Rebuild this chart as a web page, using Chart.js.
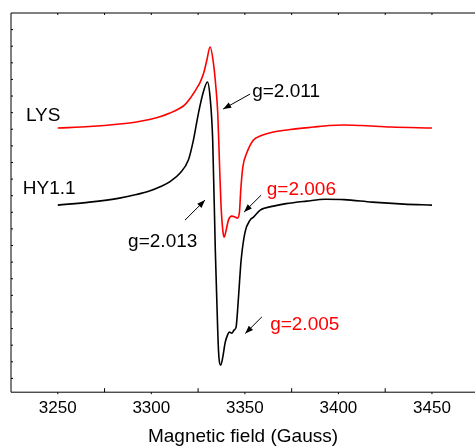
<!DOCTYPE html>
<html>
<head>
<meta charset="utf-8">
<script src="https://cdn.jsdelivr.net/npm/chart.js@4.4.1/dist/chart.umd.min.js"></script>
<style>
  html, body { margin: 0; padding: 0; background: #fff; }
</style>
</head>
<body>
<canvas id="epr" width="475" height="448"></canvas>
<script>
const FONT = "'Liberation Sans', Arial, sans-serif";

// LYS spectrum (red): field in Gauss, signal in arbitrary units
const lysField = [3250, 3267, 3283, 3292, 3299, 3305, 3310, 3315, 3318, 3320.7, 3322.5, 3324, 3326, 3328,
  3329.7, 3331.4, 3333.2, 3334.5, 3335.5, 3336.2, 3336.6, 3337.3, 3338.2, 3338.9, 3340, 3341.2, 3343,
  3344.8, 3346, 3347.1, 3347.8, 3348.9, 3351, 3354.6, 3358.2, 3365.3, 3374.2, 3386.7, 3395, 3403,
  3412, 3428, 3450];
const lysSignal = [264, 265.5, 268, 270, 272.5, 275.5, 279, 283.5, 287.5, 293.5, 298.5, 303, 309.5, 319,
  332, 345, 329, 305, 279, 242, 219, 185, 162, 155, 162, 172, 176,
  175, 174, 180, 202, 225, 239, 252, 256, 260, 262.5, 265, 266.5, 267,
  266.5, 265, 264];

// HY1.1 spectrum (black)
const hyField = [3250, 3267, 3283, 3292, 3299, 3305, 3310, 3315.4, 3319.8, 3322.5, 3325.2, 3327.8, 3330,
  3331.4, 3332.8, 3334.2, 3335, 3335.9, 3337.1, 3338.2, 3339.4, 3340.7, 3341.7, 3343, 3344.2, 3345.3,
  3346, 3347.1, 3348, 3350.1, 3352.8, 3354.6, 3358.2, 3365.3, 3372, 3383, 3393, 3403, 3418, 3435, 3450];
const hySignal = [187, 190, 194, 197.5, 201, 205.5, 210.5, 219, 232, 252, 279, 300, 310,
  295, 252, 142, 92, 42, 27, 35, 49, 57, 60, 59, 62, 65,
  79, 109, 132, 160, 172, 175, 182, 186, 188.5, 191, 192.8, 192.5, 190, 188, 187];

const xTicks = [3250, 3300, 3350, 3400, 3450];
const xMinorTicks = [3275, 3325, 3375, 3425];

// text labels, anchored at the left end of the baseline (data units)
const notes = [
  { text: 'LYS', x: 3233, y: 271, color: '#000' },
  { text: 'HY1.1', x: 3231.3, y: 198, color: '#000' },
  { text: 'g=2.011', x: 3353.9, y: 295, color: '#000' },
  { text: 'g=2.013', x: 3287.6, y: 145, color: '#000' },
  { text: 'g=2.006', x: 3361.7, y: 197, color: '#ff0000' },
  { text: 'g=2.005', x: 3363.5, y: 62, color: '#ff0000' }
];
// arrows: from (x1, y1) to the head at (x2, y2)
const arrows = [
  [3352.8, 298, 3338.4, 283],
  [3318.0, 172, 3328.7, 192],
  [3358.7, 197, 3349.6, 180],
  [3359.1, 75.3, 3350.2, 58.7]
];

const toPoints = (xs, ys) => xs.map((x, i) => ({ x: x, y: ys[i] }));

function drawArrow(ctx, x1, y1, x2, y2) {
  const a = Math.atan2(y2 - y1, x2 - x1);
  ctx.beginPath();
  ctx.moveTo(x1, y1);
  ctx.lineTo(x2, y2);
  ctx.stroke();
  ctx.beginPath();
  ctx.moveTo(x2, y2);
  ctx.lineTo(x2 - 8 * Math.cos(a) + 3 * Math.sin(a), y2 - 8 * Math.sin(a) - 3 * Math.cos(a));
  ctx.lineTo(x2 - 8 * Math.cos(a) - 3 * Math.sin(a), y2 - 8 * Math.sin(a) + 3 * Math.cos(a));
  ctx.closePath();
  ctx.fill();
}

// frame, tick marks and annotations
const decorations = {
  id: 'decorations',
  afterDraw(chart) {
    const { ctx, chartArea: area, scales: { x, y } } = chart;
    ctx.save();
    ctx.strokeStyle = '#000';
    ctx.fillStyle = '#000';
    ctx.lineWidth = 1;

    // axis lines (left, bottom, top)
    ctx.beginPath();
    ctx.moveTo(area.left, area.top);
    ctx.lineTo(area.left, area.bottom);
    ctx.lineTo(area.right, area.bottom);
    ctx.moveTo(area.left, area.top);
    ctx.lineTo(area.right, area.top);
    ctx.stroke();

    ctx.beginPath();
    xTicks.forEach(v => {
      const px = x.getPixelForValue(v);
      ctx.moveTo(px, area.bottom);
      ctx.lineTo(px, area.bottom + 2);
    });
    xMinorTicks.forEach(v => {
      const px = x.getPixelForValue(v);
      ctx.moveTo(px, area.bottom);
      ctx.lineTo(px, area.bottom - 4);
    });
    xTicks.concat(xMinorTicks).forEach(v => {
      const px = x.getPixelForValue(v);
      ctx.moveTo(px, area.top);
      ctx.lineTo(px, area.top + 2);
    });
    for (let v = y.max - 16.6; v > y.min + 5; v -= 16.6) {
      const py = y.getPixelForValue(v);
      ctx.moveTo(area.left, py);
      ctx.lineTo(area.left + 2, py);
    }
    ctx.stroke();

    arrows.forEach(a => {
      drawArrow(ctx, x.getPixelForValue(a[0]), y.getPixelForValue(a[1]),
        x.getPixelForValue(a[2]), y.getPixelForValue(a[3]));
    });

    ctx.font = '19px ' + FONT;
    ctx.textAlign = 'left';
    ctx.textBaseline = 'alphabetic';
    notes.forEach(n => {
      ctx.fillStyle = n.color;
      ctx.fillText(n.text, x.getPixelForValue(n.x), y.getPixelForValue(n.y));
    });
    ctx.restore();
  }
};

new Chart(document.getElementById('epr'), {
  type: 'line',
  data: {
    datasets: [
      { label: 'LYS', data: toPoints(lysField, lysSignal), borderColor: '#ff0000' },
      { label: 'HY1.1', data: toPoints(hyField, hySignal), borderColor: '#000000' }
    ]
  },
  options: {
    responsive: false,
    animation: false,
    layout: { padding: { left: 11, top: 13, right: 0, bottom: 0 } },
    plugins: { legend: { display: false }, tooltip: { enabled: false } },
    elements: {
      point: { radius: 0 },
      line: { borderWidth: 1.6, cubicInterpolationMode: 'monotone' }
    },
    scales: {
      x: {
        type: 'linear',
        min: 3225,
        max: 3473,
        grid: { display: false, drawTicks: false },
        border: { display: false },
        afterBuildTicks: s => { s.ticks = xTicks.map(v => ({ value: v })); },
        ticks: {
          font: { family: FONT, size: 17, lineHeight: 1 },
          color: '#000',
          padding: 8,
          maxRotation: 0,
          autoSkip: false,
          callback: v => String(v)
        },
        title: {
          display: true,
          text: 'Magnetic field (Gauss)',
          font: { family: FONT, size: 19 },
          color: '#000',
          padding: 0
        }
      },
      y: { display: false, min: 0, max: 379 }
    }
  },
  plugins: [decorations]
});
</script>
</body>
</html>
